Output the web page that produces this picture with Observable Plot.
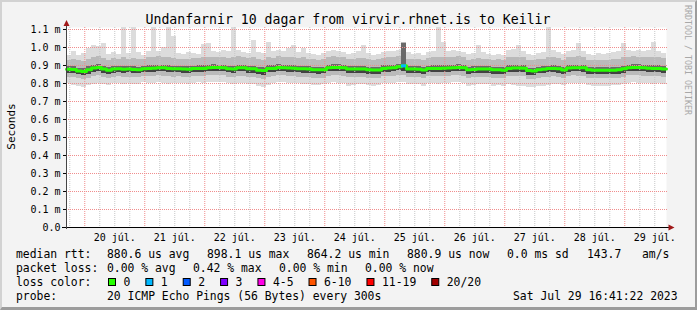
<!DOCTYPE html>
<html><head><meta charset="utf-8">
<script src="https://cdn.jsdelivr.net/npm/d3@7"></script>
<script src="https://cdn.jsdelivr.net/npm/@observablehq/plot@0.6"></script>
<style>
html,body{margin:0;padding:0;background:#f3f3f3;}
#wrap{position:relative;width:697px;height:310px;background:#f3f3f3;overflow:hidden;}
#wrap svg{position:absolute;left:0;top:0;}
#border{position:absolute;left:0;top:0;width:697px;height:310px;box-sizing:border-box;border-top:2px solid #d2d2d2;border-left:2px solid #d2d2d2;border-right:2px solid #9c9c9c;border-bottom:3px solid #9c9c9c;pointer-events:none;}
</style></head>
<body><div id="wrap"></div>
<script>
// ---------- data (values in microseconds, 2-hour steps) ----------
const startTime = new Date(Date.UTC(2023, 6, 19, 16, 41, 22));
const endTime = new Date(Date.UTC(2023, 6, 29, 16, 41, 22));
const stepHours = 2;

const medRtt = [879,878,870,866,877,886,889,881,874,880, 882,879,881,878,877,882,884,885,888,887,
 884,882,882,881,879,883,884,884,887,889, 889,888,882,881,887,887,882,882,874,872,
 883,884,889,888,886,885,882,882,881,877, 876,876,887,889,889,887,880,880,881,881,
 876,875,875,884,886,887,893,898,880,880, 879,875,883,884,884,885,886,888,889,888,
 876,878,881,881,880,876,876,873,884,886, 886,885,872,870,877,879,883,884,882,875,
 886,888,888,887,876,874,874,873,873,874, 876,882,888,889,889,888,885,884,884,881];

const maxRtt = [958,975,958,965,995,1012,1008,1020,962,970, 960,1110,966,1110,972,958,980,1110,975,1000,
 1110,1060,965,960,972,968,962,1015,1020,978, 970,982,975,1110,985,970,968,1040,970,965,
 1030,975,985,978,995,1012,972,992,968,962, 958,966,975,985,978,970,960,968,975,1010,
 965,958,962,972,980,975,985,1030,970,962, 968,955,972,978,1110,1030,975,982,978,970,
 960,966,1010,970,962,955,960,958,985,990, 1010,978,962,955,968,972,1110,985,972,960,
 975,985,1020,978,962,958,965,960,968,972, 980,1020,985,978,985,975,982,1030,975,968];

const upperOuter = [930,935,925,922,935,945,948,940,930,938, 936,942,934,940,932,936,944,946,948,944,
 946,940,935,933,936,938,940,944,946,945, 942,946,940,945,948,944,938,942,932,930,
 945,940,948,946,944,946,938,942,936,932, 930,932,944,948,946,944,934,936,938,940,
 932,930,931,940,944,945,950,1025,936,934, 935,928,940,942,946,944,942,946,948,944,
 930,934,940,936,934,930,931,928,944,946, 946,942,928,926,934,936,944,942,938,930,
 944,946,948,944,930,928,930,928,930,932, 936,942,946,948,946,944,944,946,942,938];

const upperInner = [893,892,885,882,892,900,903,896,889,894, 896,894,895,892,890,896,898,900,902,901,
 899,896,896,895,893,897,898,899,901,903, 902,902,896,895,901,900,896,897,889,887,
 898,898,903,902,900,899,896,896,895,891, 890,890,901,903,903,901,894,894,895,895,
 890,889,889,898,900,901,907,1020,894,894, 893,889,897,898,898,899,900,902,903,902,
 890,892,895,895,894,890,890,887,898,900, 900,899,886,884,891,893,897,898,896,889,
 900,902,902,901,890,888,888,887,887,888, 890,896,902,903,903,902,899,898,898,895];

const lowerInner = [858,855,848,842,852,862,866,858,850,858, 860,856,859,854,855,860,861,862,866,864,
 861,859,860,858,855,861,862,860,864,866, 867,865,859,857,864,864,858,858,850,846,
 860,861,867,865,863,862,859,858,857,853, 852,853,864,866,866,864,856,857,858,858,
 852,850,851,861,863,864,870,866,856,857, 855,850,860,861,860,862,863,865,866,865,
 851,854,858,857,856,852,851,848,861,863, 862,861,847,845,853,855,859,861,858,850,
 862,865,864,863,851,849,850,848,849,850, 852,858,865,866,866,864,862,861,860,858];

const lowerOuter = [835,832,828,822,830,838,842,834,828,836, 838,834,836,832,831,838,839,840,842,840,
 838,836,837,835,833,838,840,838,842,843, 844,842,836,834,841,840,835,834,826,822,
 836,838,844,842,840,839,836,835,834,830, 828,830,840,843,842,840,832,834,835,835,
 829,827,828,838,840,841,846,845,833,834, 832,827,837,838,837,839,840,842,843,841,
 828,831,835,834,833,828,828,825,838,840, 838,837,824,822,830,832,836,837,835,827,
 839,842,841,840,828,826,827,825,826,827, 829,835,842,843,842,841,839,838,837,835];

const minRtt = [800,790,785,780,790,795,800,792,788,798, 802,795,800,792,796,804,800,798,805,800,
 796,798,802,800,795,802,806,800,804,806, 808,803,798,795,802,800,796,794,782,775,
 790,798,806,804,800,798,800,796,795,790, 788,792,800,804,802,798,784,790,794,796,
 788,785,788,798,800,802,806,808,795,796, 792,786,798,800,796,800,802,804,806,802,
 786,790,795,794,792,786,788,784,796,790, 785,782,780,778,782,786,790,794,796,788,
 798,802,800,798,788,785,786,784,786,788, 790,796,802,804,802,800,798,796,798,795];

const lossSteps = [67];
const lossCounts = [1];

const lossLabels = ["0", "1", "2", "3", "4-5", "6-10", "11-19", "20/20"];
const lossColors = ["#26ff00", "#00b8ff", "#0059ff", "#7e00ff", "#ff00e6", "#ff5500", "#ff0000", "#a10000"];

const yTicks = [0, 0.1, 0.2, 0.3, 0.4, 0.5, 0.6, 0.7, 0.8, 0.9, 1.0, 1.1];
const yTickLabels = ["0.0", "0.1 m", "0.2 m", "0.3 m", "0.4 m", "0.5 m", "0.6 m", "0.7 m", "0.8 m", "0.9 m", "1.0 m", "1.1 m"];
const xTickLabels = ["20 júl.", "21 júl.", "22 júl.", "23 júl.", "24 júl.", "25 júl.", "26 júl.", "27 júl.", "28 júl.", "29 júl."];
const yMax = 1.1111;

const titleText = "Undanfarnir 10 dagar from virvir.rhnet.is to Keilir";
const rttStats = ["median rtt:", "880.6 us avg", "898.1 us max", "864.2 us min", "880.9 us now", "0.0 ms sd", "143.7", "am/s"];
const lossStats = ["packet loss:", "0.00 % avg", "0.42 % max", "0.00 % min", "0.00 % now"];
const probeText = ["probe:", "20 ICMP Echo Pings (56 Bytes) every 300s", "Sat Jul 29 16:41:22 2023"];

// ---------- build rows ----------
const stepMs = stepHours * 3600 * 1000;
const rows = medRtt.map((m, i) => ({
  t0: new Date(+startTime + i * stepMs),
  t1: new Date(+startTime + (i + 1) * stepMs),
  med: m / 1000,
  max: maxRtt[i] / 1000,
  hi2: upperOuter[i] / 1000,
  hi1: upperInner[i] / 1000,
  lo1: lowerInner[i] / 1000,
  lo2: lowerOuter[i] / 1000,
  min: minRtt[i] / 1000
}));
const linePts = rows.map(r => ({t: r.t0, v: r.med}));
linePts.push({t: endTime, v: rows[rows.length - 1].med});
const lossRows = lossSteps.map((s, j) => ({...rows[s], color: lossColors[lossCounts[j]]}));

const dayTicks = d3.utcDay.range(startTime, endTime);
const noonTicks = dayTicks.map(d => d3.utcHour.offset(d, 12));
const minorTicks = d3.utcHour.every(6).range(startTime, endTime).filter(d => d.getUTCHours() !== 0);

const gridRed = "#f08c8c";
const gridGray = "#c6c6c6";

const plot = Plot.plot({
  width: 697, height: 310,
  marginLeft: 66, marginRight: 31, marginTop: 27, marginBottom: 83,
  style: {background: "transparent", fontFamily: "'DejaVu Sans Mono', monospace", fontSize: "10px", color: "#000", overflow: "visible"},
  x: {type: "utc", domain: [startTime, endTime]},
  y: {domain: [0, yMax]},
  color: {type: "identity"},
  marks: [
    Plot.frame({fill: "white", stroke: "none"}),
    Plot.rect(rows, {x1: "t0", x2: "t1", y1: "min", y2: "max", fill: "#dcdcdc", shapeRendering: "crispEdges", clip: true}),
    Plot.rect(rows, {x1: "t0", x2: "t1", y1: "lo2", y2: "hi2", fill: "#bababa", shapeRendering: "crispEdges"}),
    Plot.rect(rows, {x1: "t0", x2: "t1", y1: "med", y2: "hi1", fill: "#6a6a6a", shapeRendering: "crispEdges"}),
    Plot.rect(rows, {x1: "t0", x2: "t1", y1: "lo1", y2: "med", fill: "#424242", shapeRendering: "crispEdges"}),
    Plot.ruleX(minorTicks, {stroke: gridGray, strokeDasharray: "1,1"}),
    Plot.ruleX(dayTicks, {stroke: gridRed, strokeDasharray: "1,1"}),
    Plot.ruleY(yTicks.filter(v => v > 0), {stroke: gridRed, strokeDasharray: "1,1", insetRight: -2}),
    Plot.line(linePts, {x: "t", y: "v", curve: "step-after", stroke: lossColors[0], strokeWidth: 3}),
    Plot.ruleY(lossRows, {x1: "t0", x2: "t1", y: "med", stroke: "color", strokeWidth: 3}),
    Plot.ruleY([0], {stroke: "#000", insetLeft: -4, insetRight: -3}),
    Plot.ruleX([startTime], {stroke: "#444", insetTop: -6, insetBottom: -2}),
    Plot.axisX(noonTicks, {tickSize: 0, tickPadding: 6, label: null,
      tickFormat: d => xTickLabels[noonTicks.findIndex(n => +n === +d)]}),
    Plot.axisY(yTicks, {tickSize: 3, tickPadding: 3, label: null,
      tickFormat: d => yTickLabels[yTicks.indexOf(d)]})
  ]
});
const wrap = document.getElementById("wrap");
wrap.appendChild(plot);

// scales for arrow heads
const xs = plot.scale("x"), ys = plot.scale("y");
const X = xs.apply ? (v => xs.apply(v)) : d3.scaleUtc(xs.domain, xs.range);
const Y = ys.apply ? (v => ys.apply(v)) : d3.scaleLinear(ys.domain, ys.range);

const ov = d3.select(wrap).append("svg")
  .attr("width", 697).attr("height", 310)
  .style("font-family", "'DejaVu Sans Mono', monospace")
  .style("pointer-events", "none");

// arrows
const ax = X(endTime) + 0.5, ay = Y(0) + 0.5;
ov.append("path").attr("d", `M${ax + 2},${ay - 3}L${ax + 8},${ay}L${ax + 2},${ay + 3}Z`).attr("fill", "#a01818");
const bx = X(startTime) + 0.5, by = Y(yMax);
ov.append("path").attr("d", `M${bx - 3},${by - 1}L${bx},${by - 7}L${bx + 3},${by - 1}Z`).attr("fill", "#a01818");

// title
ov.append("text").attr("x", 348).attr("y", 23.5).attr("text-anchor", "middle")
  .attr("font-size", "13.2px").attr("fill", "#000").text(titleText);

// vertical labels
ov.append("text").attr("transform", "translate(14.5,126.5) rotate(-90)").attr("text-anchor", "middle")
  .attr("font-size", "11px").attr("fill", "#000").text("Seconds");
ov.append("text").attr("transform", "translate(684.5,5) rotate(90)")
  .attr("font-size", "8.3px").attr("fill", "#a8a8a8").text("RRDTOOL / TOBI OETIKER");

// legend lines
const fs = "11.4px";
function chunks(list, xsPos, y) {
  list.forEach((t, i) => ov.append("text").attr("x", xsPos[i]).attr("y", y)
    .attr("font-size", fs).attr("fill", "#000").attr("xml:space", "preserve").text(t));
}
chunks(rttStats, [16, 107, 207, 307, 407, 507, 587, 642], 258);
chunks(lossStats, [16, 107, 193, 279, 365], 272);
chunks(["loss color:"], [16], 286);
chunks(probeText, [16, 107, 513], 299.5);

// loss colour swatches
const charW = 6.86;
let sx = 108;
lossLabels.forEach((lab, i) => {
  ov.append("rect").attr("x", sx + 0.5).attr("y", 278.5).attr("width", 7).attr("height", 7)
    .attr("fill", lossColors[i]).attr("stroke", "#000").attr("stroke-width", 1);
  ov.append("text").attr("x", sx + 15.5).attr("y", 286).attr("font-size", fs).attr("fill", "#000").text(lab);
  sx = sx + 15.5 + lab.length * charW + 15;
});

const border = document.createElement("div");
border.id = "border";
wrap.appendChild(border);
</script>
</body></html>
